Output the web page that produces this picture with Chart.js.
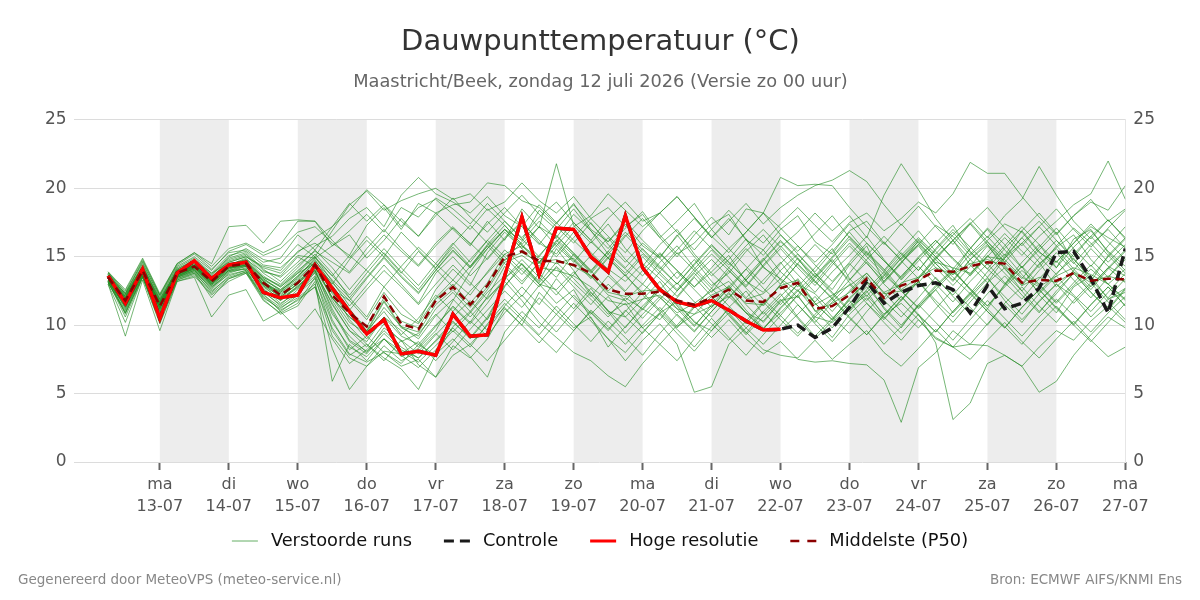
<!DOCTYPE html>
<html lang="nl">
<head>
<meta charset="utf-8">
<title>Dauwpunttemperatuur</title>
<script src="https://cdn.jsdelivr.net/npm/chart.js@4.4.1/dist/chart.umd.min.js"></script>
<style>
  html, body { margin: 0; padding: 0; background: #fff; }
  #wrap { width: 1200px; height: 600px; }
</style>
</head>
<body>
<div id="wrap"><canvas id="dauwpunt" width="1200" height="600"></canvas></div>
<script>
// uren na zo 12-07 00:00
const hours = [6,12,18,24,30,36,42,48,54,60,66,72,78,84,90,96,102,108,114,120,
  126,132,138,144,150,156,162,168,174,180,186,192,198,204,210,216,222,228,234,240,
  246,252,258,264,270,276,282,288,294,300,306,312,318,324,330,336,342,348,354,360];

// x-as: dagen
const tickHours = [24,48,72,96,120,144,168,192,216,240,264,288,312,336,360];
const dayNames = ['ma','di','wo','do','vr','za','zo','ma','di','wo','do','vr','za','zo','ma'];
const dayDates = ['13-07','14-07','15-07','16-07','17-07','18-07','19-07','20-07','21-07','22-07','23-07','24-07','25-07','26-07','27-07'];
const shadedDays = [24,72,120,168,216,264,312];
const yTicks = [0,5,10,15,20,25];

// hoge resolutie (tot +240u)
const hres = [13.6,11.6,14.1,10.5,13.8,14.7,13.4,14.4,14.6,12.4,
  12.0,12.2,14.4,12.7,11.0,9.35,10.4,7.9,8.1,7.8,
  10.8,9.2,9.3,13.6,17.9,13.7,17.1,17.0,15.0,13.9,
  18.0,14.2,12.6,11.7,11.4,11.8,11.1,10.3,9.65,9.7];

// controle run
const control = [13.6,11.6,14.1,10.5,13.8,14.7,13.4,14.4,14.6,12.4,
  12.0,12.2,14.4,12.7,11.0,9.35,10.4,7.9,8.1,7.8,
  10.8,9.2,9.3,13.6,17.9,13.7,17.1,17.0,15.0,13.9,
  18.0,14.2,12.6,11.7,11.4,11.8,11.1,10.3,9.65,9.7,
  10.0,9.1,9.8,11.3,13.2,11.6,12.4,12.9,13.1,12.6,
  10.9,12.9,11.2,11.6,12.7,15.3,15.4,13.4,10.9,15.6];

// mediaan (P50)
const p50 = [13.5,11.8,14.0,11.4,13.8,14.3,13.2,14.3,14.5,13.1,
  12.2,13.1,14.4,12.2,10.9,9.9,12.1,10.1,9.7,11.8,
  12.8,11.5,12.9,15.0,15.4,14.7,14.7,14.4,13.8,12.6,
  12.3,12.3,12.45,11.8,11.5,12.0,12.6,11.8,11.7,12.7,
  13.1,11.2,11.4,12.2,13.4,12.0,12.9,13.3,14.0,13.9,
  14.3,14.6,14.5,13.1,13.3,13.25,13.8,13.25,13.4,13.35];

// verstoorde runs (geschat uit de grafiek)
const runs = [
  [13.8,12.2,14.3,11.8,14.0,14.6,13.5,14.8,15.2,14.0, 13.5,14.6,15.8,16.5,17.8,18.6,17.2,19.5,20.8,19.6, 19.0,18.2,19.4,18.0,17.2,18.8,17.5,16.2,15.0,16.4, 14.8,13.6,15.2,14.0,12.8,13.9,15.1,13.2,12.4,14.0, 15.2,13.8,12.6,14.4,15.8,13.1,14.5,16.2,15.0,13.8, 15.6,17.1,15.9,14.2,15.5,16.8,14.6,13.2,15.1,16.4],
  [13.2,11.0,13.8,10.8,13.5,14.0,12.6,13.8,14.2,12.4, 11.5,12.6,14.0,11.0,8.8,7.9,9.4,8.2,7.6,8.8, 10.2,9.1,10.6,12.8,14.5,13.2,15.6,14.0,12.2,10.8, 11.6,9.8,10.9,11.7,10.2,9.6,11.3,12.5,10.8,12.1, 13.4,11.6,10.4,12.0,13.1,11.2,9.8,11.5,12.9,14.1, 12.6,11.2,13.0,14.3,12.2,10.9,12.8,13.6,11.9,12.7],
  [13.6,12.0,14.2,11.2,13.9,14.5,13.0,14.4,14.9,13.6, 12.8,13.9,15.2,13.8,12.0,10.6,12.8,11.4,10.2,12.6, 14.1,12.9,15.3,16.8,15.6,17.2,16.4,18.1,16.9,15.2, 14.1,13.0,14.6,15.8,14.2,12.9,13.8,15.4,16.6,15.0, 13.7,12.4,13.9,15.1,16.5,14.8,13.3,14.7,16.0,17.3, 15.4,14.1,13.0,14.6,15.9,14.2,16.3,17.0,15.3,14.0],
  [13.0,9.2,13.3,9.6,13.2,13.6,12.2,13.2,13.8,11.8, 10.9,11.6,13.5,9.6,7.8,8.6,7.4,8.9,7.1,6.2, 8.5,7.6,9.0,11.2,10.0,12.4,11.1,9.8,10.6,8.4, 9.9,11.2,10.4,12.0,13.5,12.1,10.8,9.4,11.0,12.3, 10.6,9.2,10.5,11.8,10.1,8.6,9.9,11.4,12.6,10.9, 12.2,13.5,11.8,10.4,11.7,13.0,12.1,10.6,11.9,12.4],
  [13.9,12.4,14.6,12.0,14.2,14.9,13.8,14.6,15.0,14.2, 13.8,15.1,14.9,15.8,16.6,14.9,16.2,17.8,16.5,18.2, 17.0,15.8,17.6,16.2,18.5,17.1,21.8,17.3,16.0,17.4, 15.6,14.3,15.9,17.0,15.2,13.8,12.6,14.1,15.5,13.9, 12.8,14.2,15.6,13.4,12.1,13.6,14.9,16.1,14.5,13.2, 14.8,15.9,14.1,12.9,14.4,15.7,16.6,14.8,13.5,15.0],
  [13.4,11.5,13.9,11.0,13.6,14.1,13.0,14.0,14.1,12.6, 11.8,12.9,13.8,10.4,8.2,9.2,8.0,7.2,8.6,7.8, 9.9,11.0,9.6,11.4,12.8,11.5,13.4,12.0,10.8,12.1, 10.6,11.9,13.2,11.4,10.0,11.3,12.7,11.1,9.8,10.9, 12.2,10.4,9.1,10.8,12.0,10.5,11.8,13.2,11.6,10.2, 11.7,13.1,14.2,12.5,11.0,12.3,13.8,12.4,11.1,12.6],
  [13.5,11.7,14.0,11.5,13.7,14.2,13.1,14.1,14.4,13.0, 12.5,13.6,14.8,12.9,11.2,9.6,11.0,9.3,10.5,12.2, 11.0,12.5,13.8,15.2,14.0,12.8,14.3,13.1,11.9,10.6, 12.0,11.2,12.8,11.5,10.3,9.1,10.4,9.0,7.9,8.8, 7.5,7.3,7.4,7.2,7.1,6.0,2.9,6.9,8.0,9.6, 8.6,10.1,11.5,10.2,11.8,13.0,11.6,12.9,14.2,13.1],
  [13.1,10.9,13.6,10.5,13.4,13.9,12.4,13.6,14.0,12.0, 11.2,12.2,13.9,11.6,9.6,8.4,10.1,8.8,9.4,10.8, 9.5,10.9,12.4,13.6,12.1,13.8,12.5,11.2,12.7,11.0, 9.4,10.8,12.1,10.7,9.5,11.0,12.4,10.9,9.7,11.3, 12.6,11.1,9.8,11.4,12.5,10.6,9.4,10.8,8.7,3.1, 4.3,7.2,7.8,7.0,8.4,9.6,8.9,10.3,11.4,10.2],
  [13.7,12.1,14.4,11.9,14.1,14.8,13.6,15.0,15.6,14.8, 14.5,15.9,15.0,16.9,18.8,19.8,18.4,19.1,19.6,20.0, 19.2,19.6,18.4,19.0,20.4,19.1,18.2,19.4,17.8,18.6, 17.2,18.1,16.4,17.6,18.9,17.0,15.6,16.8,18.2,17.1, 15.8,14.6,15.9,17.4,16.0,14.7,13.5,15.0,16.2,14.9, 13.7,15.3,16.7,15.4,14.2,15.8,17.1,16.0,14.6,15.9],
  [13.3,11.3,13.7,11.1,13.5,14.2,13.3,14.2,14.6,13.3, 12.0,12.8,14.2,12.6,10.4,9.0,10.6,9.6,8.4,9.9, 11.4,10.2,12.1,14.3,13.0,14.6,13.5,15.2,14.0,12.5, 13.7,12.2,11.0,12.5,13.8,12.4,14.0,12.7,11.4,13.0, 14.5,13.2,11.9,13.3,14.6,13.0,11.8,13.4,14.8,13.5, 12.3,13.9,15.2,13.7,12.4,13.8,14.9,13.3,12.0,13.4],
  [13.2,10.6,13.5,10.2,13.3,13.8,12.0,13.4,13.9,11.9, 10.8,11.4,13.2,5.9,8.6,7.4,9.0,7.8,6.9,8.2, 9.6,8.4,10.1,11.6,10.4,12.0,10.8,9.6,11.1,9.9, 8.6,10.0,11.3,9.9,10.8,12.1,10.7,9.3,10.6,11.9, 10.5,9.0,10.3,11.6,12.8,11.3,10.0,11.5,10.2,8.9, 10.4,11.8,10.5,9.2,10.6,11.9,10.7,9.5,10.9,12.1],
  [13.4,11.9,14.1,11.3,13.6,14.0,12.8,13.7,14.0,12.3, 11.0,11.9,12.8,8.3,5.3,7.0,8.5,7.4,8.1,9.4, 8.2,9.7,11.1,12.5,11.3,12.9,14.2,12.8,11.5,13.0, 11.8,10.5,11.9,13.1,11.7,10.6,12.0,13.3,11.9,10.7, 12.2,13.6,12.3,11.0,12.4,13.7,12.5,11.2,12.6,13.9, 12.7,11.4,12.8,14.0,12.9,11.6,12.9,14.1,13.0,11.8],
  [13.6,11.6,14.1,11.6,13.9,14.4,13.4,14.5,14.7,13.4, 12.6,13.4,14.6,11.8,9.9,8.6,7.6,6.8,5.3,7.9, 9.0,7.7,6.2,9.5,11.0,9.8,11.4,10.1,8.8,10.3, 9.1,7.8,9.4,10.8,9.6,11.0,12.3,10.9,9.7,11.2, 12.5,13.8,12.4,11.1,12.6,13.9,12.5,11.3,12.8,14.0, 12.6,11.4,12.9,14.3,13.0,11.7,13.1,14.4,13.0,11.9],
  [13.8,12.5,14.8,12.2,14.4,15.2,14.1,15.3,15.5,14.6, 14.9,16.6,15.5,17.2,18.4,19.9,18.8,17.6,16.5,18.0, 19.3,17.9,16.8,18.2,19.5,18.1,17.0,18.5,16.9,15.6, 17.1,18.3,16.6,15.2,16.0,17.4,18.1,16.2,15.5,17.0, 18.0,16.1,15.2,16.9,17.6,16.0,14.8,15.9,17.3,16.5, 15.1,16.2,17.4,16.8,15.3,14.6,16.0,17.2,16.4,15.7],
  [13.5,12.0,14.3,11.7,14.1,14.7,13.7,14.9,15.3,14.1, 13.2,14.4,15.4,14.6,13.8,15.2,16.6,15.4,14.3,15.8, 17.1,16.0,14.8,16.3,17.5,16.2,15.0,16.4,17.8,16.5, 15.3,16.9,18.2,16.8,15.5,17.0,18.4,17.1,16.0,17.4, 18.6,17.3,16.1,17.5,18.2,16.9,17.8,19.0,18.2,19.6, 21.9,21.1,21.1,19.4,17.9,16.6,18.0,19.2,17.6,18.5],
  [13.3,11.4,13.9,11.5,13.7,14.3,13.3,14.4,14.8,13.9, 13.6,15.0,14.3,13.0,14.8,16.2,15.0,16.8,15.5,14.2, 15.9,17.3,16.0,14.7,16.1,17.6,16.3,15.1,13.8,15.2, 16.6,15.3,14.1,15.5,16.9,15.6,14.4,15.8,17.0,15.7, 16.8,18.2,16.9,18.0,16.4,19.5,21.8,19.9,17.8,16.2, 17.4,15.9,14.6,16.0,17.2,15.8,14.5,15.9,17.0,15.6],
  [13.7,11.9,14.1,11.3,13.8,14.4,13.1,14.3,14.6,13.2, 12.4,13.5,14.9,13.6,15.1,14.0,12.8,14.3,15.7,14.5, 13.3,14.8,16.2,15.0,13.7,15.1,16.5,15.3,14.0,15.4, 16.8,15.5,14.2,13.0,14.4,15.8,14.6,13.3,14.7,16.1, 14.8,13.5,14.9,16.3,15.0,13.7,15.1,16.4,15.2,16.6, 17.8,16.4,18.0,19.2,21.6,19.5,17.6,16.3,17.7,16.4],
  [13.4,11.7,14.0,11.6,13.9,14.2,13.2,14.2,14.3,12.9, 12.1,13.0,14.5,12.4,11.1,12.6,14.0,12.8,11.5,13.0, 14.4,13.1,11.9,13.4,14.8,13.5,12.2,13.7,15.1,13.8, 12.5,14.0,15.3,14.0,12.8,14.2,15.6,14.3,13.0,14.5, 15.8,14.4,13.2,14.6,16.0,14.7,13.4,14.9,16.2,14.8, 13.6,15.0,16.4,15.1,16.5,17.6,18.8,19.6,22.0,19.2],
  [13.6,12.3,14.5,12.1,14.3,15.0,14.0,15.4,15.9,15.1, 15.6,16.8,17.2,16.0,15.1,17.3,18.6,17.0,18.9,18.2, 18.8,19.0,20.4,20.2,19.1,18.6,17.4,18.9,17.0,16.1, 17.4,15.8,14.9,16.6,15.0,13.6,14.8,16.3,14.2,13.4, 14.9,13.2,12.0,13.8,15.4,14.1,12.6,13.5,15.0,16.2, 14.4,13.1,14.9,16.0,14.6,12.8,14.0,15.6,14.3,13.6],
  [13.1,11.1,13.6,10.9,13.5,13.9,12.7,13.9,14.3,12.7, 11.6,12.4,13.6,10.8,9.2,8.0,9.8,8.9,7.9,9.3, 10.6,11.8,10.4,12.9,14.2,13.0,11.6,12.6,10.5,9.0, 7.4,8.9,10.1,8.6,5.1,5.5,8.6,9.8,11.0,9.6, 10.8,12.1,10.6,9.4,11.0,12.4,11.0,9.8,11.2,12.6, 11.3,10.0,11.6,12.8,11.4,10.2,11.8,13.1,11.7,10.4],
  [13.3,11.2,13.8,11.2,13.6,14.1,12.9,14.0,14.4,12.8, 11.9,12.7,14.1,12.0,10.2,9.4,11.3,9.9,9.0,10.7, 11.9,10.6,12.0,13.2,11.8,10.2,9.1,8.0,7.4,6.3, 5.5,7.2,8.6,7.4,9.0,10.5,9.1,7.8,9.3,10.7, 9.4,10.8,12.0,10.6,9.3,10.7,12.1,10.8,9.5,11.0, 12.3,11.0,9.8,11.3,12.6,11.3,10.1,11.5,12.8,11.4],
  [13.5,11.8,14.1,11.4,13.7,14.3,13.0,14.1,14.5,13.2, 12.3,13.2,14.3,12.0,10.6,9.5,11.7,9.8,9.2,11.2, 12.4,11.0,12.6,14.6,15.1,14.2,14.0,13.6,12.8,11.8, 11.5,11.9,12.2,11.2,10.8,11.4,12.1,10.9,10.3,11.8, 12.1,10.6,10.2,11.3,12.2,10.8,11.6,10.4,9.0,8.4, 8.6,8.5,7.8,7.0,5.1,5.9,7.8,9.3,10.6,9.8],
  [13.5,12.1,13.9,11.7,13.9,14.4,13.4,14.3,14.7,13.5, 12.9,14.0,15.0,13.2,11.4,12.9,14.4,13.0,11.6,13.8, 15.0,13.6,14.9,16.4,17.6,16.0,15.2,16.8,15.3,14.1, 13.2,14.5,13.4,12.1,13.6,14.8,13.5,12.0,13.3,14.6, 13.0,11.7,13.1,14.5,13.2,12.0,13.6,14.9,13.4,12.2, 13.7,15.1,13.8,12.5,14.0,15.3,13.9,12.6,14.1,15.4],
  [13.2,11.4,13.7,11.3,13.6,14.2,13.0,14.2,14.6,13.0, 12.0,13.1,14.0,11.2,8.9,8.1,9.0,7.7,8.3,9.6, 11.8,13.9,15.6,17.0,16.2,18.4,17.2,16.0,17.5,15.9, 14.6,16.0,14.9,13.4,14.8,13.2,12.0,13.5,14.9,13.3, 12.0,13.4,14.8,13.1,11.8,13.2,14.6,15.8,14.2,12.9, 14.3,15.8,14.4,13.0,14.5,15.6,14.1,12.8,14.2,15.5],
  [13.4,10.8,13.6,10.6,13.4,13.8,12.5,13.5,13.9,12.2, 11.3,12.0,13.0,9.2,7.6,7.0,8.1,7.9,8.8,7.4, 8.8,10.3,9.2,10.9,12.2,10.8,9.5,11.0,12.4,11.1, 9.8,11.4,12.7,11.2,9.9,11.5,12.9,11.5,10.2,11.7, 13.0,11.6,10.4,11.9,13.2,11.8,10.6,12.0,13.5,12.1, 10.8,12.3,13.6,12.2,10.9,12.5,13.8,12.4,11.2,12.7],
  [13.9,12.6,14.9,12.3,14.5,15.3,14.3,15.6,16.0,15.3, 15.9,17.6,17.6,15.8,16.9,18.1,16.8,18.6,17.9,19.3, 18.5,17.4,18.9,17.6,16.4,17.9,19.0,17.5,16.2,17.8, 19.0,17.6,18.2,19.4,17.9,16.5,15.3,16.8,18.2,16.6, 15.4,16.7,18.0,16.4,15.1,16.5,15.2,14.0,15.5,16.8, 15.3,14.1,15.6,16.9,15.4,14.2,15.7,16.9,15.4,14.3],
  [13.6,11.9,14.2,11.5,13.8,14.3,13.2,14.4,14.5,13.0, 12.2,13.2,14.2,12.6,11.8,10.4,12.4,10.8,10.1,12.0, 13.3,12.2,13.9,15.5,14.4,13.1,14.6,13.4,12.1,13.6, 12.4,11.1,12.6,13.9,12.6,11.3,12.8,14.1,12.7,11.5, 13.0,12.3,11.0,12.5,13.8,12.4,13.0,14.3,13.0,11.7, 13.2,14.5,13.1,11.9,13.4,14.7,13.3,12.0,13.5,14.8],
  [13.5,11.9,13.9,11.7,13.9,14.3,13.4,14.2,14.4,13.3, 12.6,13.8,14.5,13.1,11.8,13.4,14.9,13.5,12.3,14.0, 15.4,14.2,15.8,17.0,15.8,14.5,16.1,17.5,16.2,14.9, 16.5,17.8,16.4,15.0,16.6,17.9,16.6,18.5,18.2,20.8, 20.2,20.3,20.2,18.6,17.2,15.9,17.4,16.0,14.8,16.2, 17.5,16.1,14.9,16.4,17.6,16.2,15.0,16.5,17.7,16.3],
  [13.4,11.6,14.0,11.5,13.8,14.4,13.5,14.6,15.0,14.3, 14.0,15.4,16.0,15.0,13.9,15.6,17.0,15.6,14.4,16.0, 17.2,15.9,17.4,18.6,17.2,15.9,17.5,18.8,17.4,16.1, 17.6,16.2,15.0,16.5,17.8,16.4,17.6,18.9,17.4,18.6, 19.5,20.2,20.6,21.3,20.5,18.8,17.3,18.7,17.2,15.9, 17.4,18.6,17.1,15.8,17.2,18.5,17.0,15.7,17.1,18.4],
  [13.5,11.8,14.0,11.4,13.8,14.3,13.2,14.3,14.5,13.1, 12.1,13.0,14.3,12.0,10.6,9.6,11.8,9.9,9.5,11.5, 12.6,11.3,12.8,14.8,15.3,14.6,14.8,14.3,13.6,12.4, 12.1,12.5,12.6,11.6,11.3,12.2,12.8,11.6,11.5,12.9, 13.3,11.0,11.6,12.4,13.6,11.8,13.1,13.5,14.2,13.7, 14.5,14.8,14.3,12.9,13.5,13.1,13.9,13.1,13.6,13.2],
  [13.3,11.5,13.8,11.2,13.7,14.1,12.9,14.0,14.3,12.9, 11.8,12.8,14.0,11.5,9.6,8.8,10.6,9.2,8.6,10.0, 11.3,10.1,11.6,13.4,14.5,13.0,12.6,13.9,12.4,11.0, 10.6,9.4,10.9,9.7,8.4,9.9,11.2,9.8,8.6,10.0, 11.5,10.1,8.8,10.3,11.6,10.2,8.9,10.4,9.1,8.4, 9.8,11.2,9.9,8.6,10.1,11.4,10.0,8.8,10.2,11.6],
  [13.7,12.3,14.3,11.9,14.0,14.7,13.8,15.1,15.4,14.4, 14.2,15.3,16.4,17.2,18.9,17.6,18.8,17.2,18.6,19.2, 18.1,17.0,18.5,17.3,15.9,17.2,15.8,14.6,16.1,14.9, 13.6,15.0,13.7,12.5,13.9,15.2,14.0,12.8,14.3,15.6, 14.2,12.9,14.4,15.8,14.5,13.2,14.6,15.9,14.5,13.3, 14.8,16.1,14.6,13.4,14.9,16.2,14.8,13.5,15.0,16.3],
  [13.1,10.9,13.5,10.4,13.3,13.7,12.3,13.4,13.8,12.1, 11.1,11.8,12.8,9.8,7.9,7.3,8.0,7.0,7.5,6.2, 7.8,8.6,7.4,8.9,10.4,9.2,8.0,9.6,11.0,9.7, 11.1,9.8,8.6,10.0,11.4,10.1,8.9,10.3,11.7,10.4, 9.2,10.6,11.9,10.5,9.3,10.8,12.1,10.7,9.5,11.0, 12.4,11.0,9.8,11.3,12.6,11.2,10.0,11.5,12.8,11.4],
  [13.6,12.2,14.2,11.8,14.0,14.6,13.5,14.7,15.1,13.8, 13.0,14.2,15.5,14.2,12.6,14.1,15.6,14.2,12.9,14.5, 16.0,14.6,16.2,17.6,16.3,15.0,16.6,15.2,13.9,15.4, 14.2,15.6,14.3,13.0,14.5,15.9,14.6,13.3,14.8,16.2, 14.9,13.6,15.0,16.5,15.2,13.9,15.3,14.0,15.6,17.0, 15.7,14.4,15.8,17.2,15.9,14.6,16.0,17.4,16.1,14.8],
  [13.8,12.3,14.7,12.2,14.5,15.3,14.5,17.2,17.3,16.0, 17.6,17.7,17.6,16.2,14.9,16.5,15.2,13.8,15.4,14.1, 12.8,14.3,15.8,14.5,13.2,14.6,16.0,14.7,13.4,14.9, 13.6,12.4,13.9,15.3,14.0,12.7,14.2,15.6,14.3,13.0, 14.5,15.9,14.6,13.3,14.8,16.1,14.7,13.4,14.9,16.2, 14.8,13.5,15.0,16.4,15.0,13.7,15.2,16.5,15.1,13.8],
  [13.0,10.2,13.5,10.1,13.2,13.5,10.6,12.2,12.6,10.3, 11.0,9.7,11.2,9.0,7.2,8.2,9.6,8.4,7.6,8.9, 10.3,9.0,10.5,11.9,10.6,9.3,10.8,12.2,10.9,9.6, 11.0,12.4,11.1,9.8,11.3,12.7,11.4,10.1,11.6,12.9, 11.5,10.2,11.7,13.0,11.6,10.4,11.9,13.2,11.8,10.6, 12.0,13.4,12.1,10.8,12.3,13.6,12.2,11.0,12.4,13.8],
  [13.5,12.0,14.1,11.6,13.9,14.3,13.3,14.4,14.6,13.4, 12.5,13.6,14.7,13.3,12.0,13.5,15.0,13.6,12.4,14.0, 15.5,14.2,15.6,17.0,15.6,14.3,15.8,17.2,18.0,19.6, 18.4,17.2,18.2,19.4,17.9,16.4,17.8,16.3,15.1,16.6, 15.2,13.9,15.4,16.8,15.3,14.0,15.5,16.9,15.4,14.1, 15.6,17.0,15.5,14.2,15.7,17.1,15.6,14.3,15.8,17.2],
  [13.4,11.6,13.9,11.3,13.7,14.2,13.1,14.2,14.4,13.0, 12.4,13.3,14.6,12.3,10.9,9.9,12.0,10.3,9.8,11.9, 13.0,11.6,13.1,15.2,15.8,14.9,14.5,14.9,13.6,12.2, 11.8,13.0,12.0,10.9,11.6,12.5,13.2,11.9,12.3,13.4, 12.5,11.5,12.2,12.9,13.8,12.3,12.5,13.1,14.6,14.2, 13.8,15.0,14.8,13.5,12.8,13.6,14.2,13.7,13.0,14.1],
  [13.2,11.3,13.7,11.0,13.5,14.0,12.8,13.9,14.1,12.5, 11.4,12.3,13.4,10.2,8.4,7.7,9.0,8.1,7.3,8.5, 9.8,8.6,10.0,11.3,10.0,8.7,10.2,11.6,10.3,9.0, 8.0,9.5,10.8,9.4,8.1,9.6,10.9,9.5,8.2,7.8, 7.6,8.9,7.5,8.6,9.6,8.0,7.0,8.3,9.7,8.4, 7.5,8.9,10.2,8.8,7.6,9.0,10.3,8.9,7.7,8.4],
  [13.6,12.1,14.1,11.6,13.9,14.5,13.4,14.4,14.8,13.5, 12.8,13.8,15.0,13.6,12.2,13.8,15.3,13.9,12.6,14.2, 15.7,14.3,15.9,17.3,15.9,14.6,16.2,14.8,13.5,15.0, 13.8,15.2,13.9,12.6,14.1,15.5,14.2,12.9,14.4,15.8, 14.4,13.1,14.6,16.0,14.7,13.4,14.9,16.3,15.0,13.7, 15.2,16.5,15.1,16.9,18.2,16.7,18.0,19.0,18.4,20.2]
];

const toPoints = vals => vals.map((v, i) => ({x: hours[i], y: v}));

const datasets = [];
runs.forEach((run, i) => {
  datasets.push({
    label: 'Verstoorde run ' + (i + 1),
    data: toPoints(run),
    borderColor: 'rgba(34,139,34,0.62)',
    borderWidth: 1,
    pointRadius: 0,
    order: 3
  });
});
datasets.push({label: 'Controle', data: toPoints(control), borderColor: '#1a1a1a', borderWidth: 3.5, borderDash: [10, 5], pointRadius: 0, order: 2});
datasets.push({label: 'Hoge resolutie', data: toPoints(hres), borderColor: '#ff0000', borderWidth: 3.5, pointRadius: 0, order: 1});
datasets.push({label: 'Middelste (P50)', data: toPoints(p50), borderColor: '#8b0000', borderWidth: 2.5, borderDash: [8, 5], pointRadius: 0, order: 0});

// grijze banden voor om-en-om dagen
const dayBands = {
  id: 'dayBands',
  beforeDraw(chart) {
    const {ctx, chartArea, scales} = chart;
    const x = scales.x;
    ctx.save();
    ctx.fillStyle = '#ededed';
    shadedDays.forEach(h => {
      const x0 = x.getPixelForValue(h);
      const x1 = x.getPixelForValue(h + 24);
      ctx.fillRect(x0, chartArea.top, x1 - x0, chartArea.bottom - chartArea.top);
    });
    ctx.restore();
  }
};

// eigen legenda + voettekst
const legendItems = [
  {text: 'Verstoorde runs', color: 'rgba(34,139,34,0.7)', width: 1, dash: []},
  {text: 'Controle', color: '#1a1a1a', width: 3, dash: [10, 6]},
  {text: 'Hoge resolutie', color: '#ff0000', width: 3, dash: []},
  {text: 'Middelste (P50)', color: '#8b0000', width: 2.5, dash: [9, 8]}
];

const footer = {
  id: 'footer',
  afterDraw(chart) {
    const ctx = chart.ctx;
    ctx.save();
    ctx.font = '17.8px "DejaVu Sans"';
    ctx.textBaseline = 'middle';
    const lineLen = 26, gapText = 13, gapItem = 32, y = 541;
    const widths = legendItems.map(it => ctx.measureText(it.text).width);
    let total = gapItem * (legendItems.length - 1);
    widths.forEach(w => { total += lineLen + gapText + w; });
    let x = chart.width / 2 - total / 2;
    legendItems.forEach((it, i) => {
      ctx.beginPath();
      ctx.setLineDash(it.dash);
      ctx.lineWidth = it.width;
      ctx.strokeStyle = it.color;
      ctx.moveTo(x, y);
      ctx.lineTo(x + lineLen, y);
      ctx.stroke();
      ctx.setLineDash([]);
      ctx.fillStyle = '#111';
      ctx.fillText(it.text, x + lineLen + gapText, y);
      x += lineLen + gapText + widths[i] + gapItem;
    });

    ctx.font = '13.5px "DejaVu Sans"';
    ctx.fillStyle = '#888';
    ctx.textAlign = 'left';
    ctx.fillText('Gegenereerd door MeteoVPS (meteo-service.nl)', 18, 580);
    ctx.textAlign = 'right';
    ctx.fillText('Bron: ECMWF AIFS/KNMI Ens', 1182, 580);
    ctx.restore();
  }
};

Chart.defaults.font.family = '"DejaVu Sans", sans-serif';

const ctx = document.getElementById('dauwpunt').getContext('2d');
new Chart(ctx, {
  type: 'line',
  data: {datasets: datasets},
  options: {
    responsive: false,
    animation: false,
    layout: {padding: {top: 0, left: 38, right: 37, bottom: 78}},
    plugins: {
      legend: {display: false},
      tooltip: {enabled: false},
      title: {
        display: true,
        text: 'Dauwpunttemperatuur (°C)',
        color: '#333',
        font: {size: 29, weight: 'normal'},
        padding: {top: 25, bottom: 10}
      },
      subtitle: {
        display: true,
        text: 'Maastricht/Beek, zondag 12 juli 2026 (Versie zo 00 uur)',
        color: '#666',
        font: {size: 17.8},
        padding: {top: 2, bottom: 26.8}
      }
    },
    scales: {
      x: {
        type: 'linear',
        min: -6,
        max: 360,
        afterBuildTicks: axis => { axis.ticks = tickHours.map(v => ({value: v})); },
        ticks: {
          autoSkip: false,
          maxRotation: 0,
          color: '#555',
          padding: 4,
          font: {size: 16, lineHeight: 1.375},
          callback: (value, index) => [dayNames[index], dayDates[index]]
        },
        grid: {drawOnChartArea: false, drawTicks: true, tickLength: 8, tickWidth: 2, tickColor: '#666'},
        border: {display: false}
      },
      y: {
        position: 'left',
        min: 0,
        max: 25,
        afterBuildTicks: axis => { axis.ticks = yTicks.map(v => ({value: v})); },
        ticks: {color: '#555', font: {size: 17}, padding: 7},
        grid: {color: '#dcdcdc', drawTicks: false},
        border: {display: false}
      },
      y2: {
        display: true,
        position: 'right',
        min: 0,
        max: 25,
        afterBuildTicks: axis => { axis.ticks = yTicks.map(v => ({value: v})); },
        ticks: {color: '#555', font: {size: 17}, padding: 8},
        grid: {drawOnChartArea: false, drawTicks: false},
        border: {display: true, color: '#e6e6e6'}
      }
    }
  },
  plugins: [dayBands, footer]
});
</script>
</body>
</html>
